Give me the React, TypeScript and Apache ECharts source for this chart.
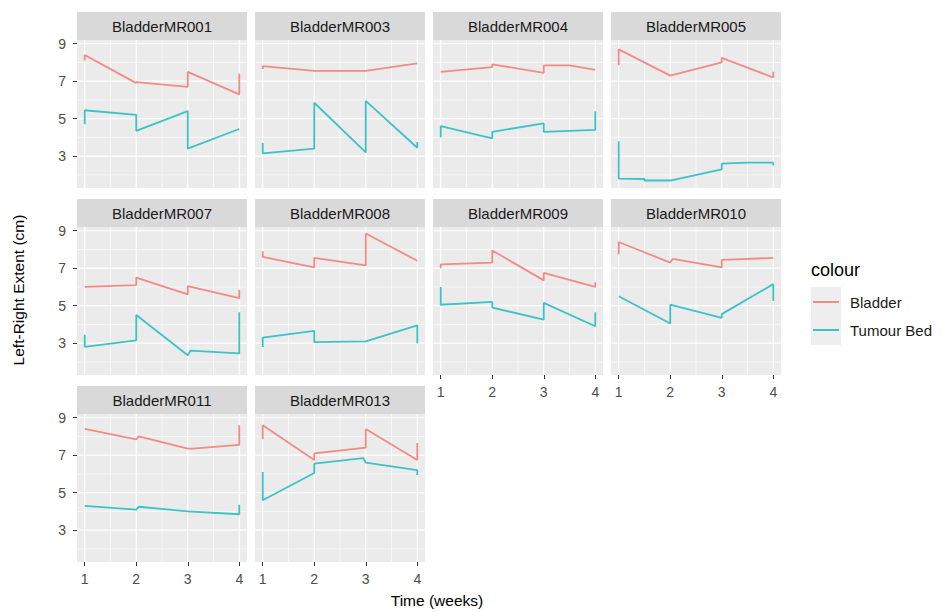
import React, { useEffect, useRef } from "react";
import * as echarts from "echarts";

// ---- data ----
const panelNames = [
  "BladderMR001", "BladderMR003", "BladderMR004", "BladderMR005",
  "BladderMR007", "BladderMR008", "BladderMR009", "BladderMR010",
  "BladderMR011", "BladderMR013",
];

const bladder: number[][][] = [
  [[1, 8.1], [1, 8.4], [2, 6.9], [2, 6.95], [3, 6.7], [3, 7.5], [4, 6.3], [4, 7.4]],
  [[1, 7.65], [1, 7.8], [2, 7.55], [3, 7.55], [4, 7.95]],
  [[1, 7.5], [2, 7.75], [2, 7.9], [3, 7.45], [3, 7.85], [3.5, 7.85], [4, 7.6]],
  [[1, 7.85], [1, 8.7], [2, 7.3], [3, 8.0], [3, 8.25], [4, 7.2], [4, 7.5]],
  [[1, 6.0], [2, 6.1], [2, 6.5], [3, 5.6], [3, 6.05], [4, 5.4], [4, 5.85]],
  [[1, 7.9], [1, 7.6], [2, 7.05], [2, 7.55], [3, 7.15], [3, 8.85], [4, 7.4]],
  [[1, 7.0], [1, 7.2], [2, 7.3], [2, 7.95], [3, 6.35], [3, 6.75], [4, 6.0], [4, 6.25]],
  [[1, 7.75], [1, 8.4], [2, 7.3], [2.05, 7.5], [3, 7.05], [3, 7.45], [4, 7.55]],
  [[1, 8.4], [2, 7.85], [2.05, 8.0], [3, 7.35], [3.1, 7.35], [4, 7.55], [4, 8.6]],
  [[1, 7.85], [1, 8.6], [2, 6.75], [2, 7.1], [3, 7.4], [3, 8.4], [4, 6.75], [4, 7.65]],
];

const tumourBed: number[][][] = [
  [[1, 4.7], [1, 5.45], [2, 5.2], [2, 4.35], [3, 5.4], [3, 3.4], [4, 4.45]],
  [[1, 3.7], [1, 3.15], [2, 3.4], [2, 5.85], [3, 3.2], [3, 5.95], [4, 3.45], [4, 3.75]],
  [[1, 4.0], [1, 4.6], [2, 3.95], [2, 4.3], [3, 4.75], [3, 4.3], [4, 4.4], [4, 5.4]],
  [[1, 3.8], [1, 1.8], [1.5, 1.78], [1.5, 1.7], [2, 1.7], [3, 2.3], [3, 2.6], [3.5, 2.65], [4, 2.65], [4, 2.5]],
  [[1, 3.45], [1, 2.8], [2, 3.15], [2, 4.5], [3, 2.35], [3.05, 2.6], [4, 2.45], [4, 4.65]],
  [[1, 2.8], [1, 3.3], [2, 3.65], [2, 3.05], [3, 3.1], [4, 3.95], [4, 3.0]],
  [[1, 6.0], [1, 5.05], [2, 5.2], [2, 4.9], [3, 4.25], [3, 5.15], [4, 3.9], [4, 4.65]],
  [[1, 5.5], [2, 4.05], [2, 5.05], [3, 4.35], [3, 4.55], [4, 6.15], [4, 5.25]],
  [[1, 4.3], [2, 4.1], [2.05, 4.25], [3, 4.0], [4, 3.85], [4, 4.35]],
  [[1, 6.1], [1, 4.6], [2, 6.05], [2, 6.55], [2.95, 6.85], [3, 6.6], [4, 6.2], [4, 5.95]],
];

const yTicks = [3, 5, 7, 9];
const yMinor = [2, 4, 6, 8];
const xTicks = [1, 2, 3, 4];
const xMinor = [1.5, 2.5, 3.5];
const X_MIN = 0.85;
const X_MAX = 4.15;
const Y_MIN = 1.3;
const Y_MAX = 9.2;

// ---- layout / style ----
const FONT = "'Liberation Sans', Arial, sans-serif";
const COL_LEFT = [77, 255, 433, 611];
const ROW_TOP = [40, 227, 414];
const PANEL_W = 170;
const PANEL_H = 148;
const STRIP_H = 28;
const BLADDER_COLOR = "#F08C85";
const TUMOUR_COLOR = "#3CC3C5";

export default function App() {
  const ref = useRef<HTMLDivElement>(null);

  useEffect(() => {
    if (!ref.current) return;
    const chart = echarts.init(ref.current, undefined, { renderer: "svg" });

    const n = panelNames.length;
    const grids: any[] = [];
    const xAxes: any[] = [];
    const yAxes: any[] = [];
    const series: any[] = [];
    const graphics: any[] = [];

    const gridLine = (i: number, data: number[][], width: number) => ({
      type: "line", xAxisIndex: i, yAxisIndex: i, data,
      symbol: "none", showSymbol: false, silent: true, z: 1,
      lineStyle: { color: "#FFFFFF", width },
      emphasis: { disabled: true },
      tooltip: { show: false },
    });

    for (let i = 0; i < n; i++) {
      const col = i % 4;
      const row = Math.floor(i / 4);
      const left = COL_LEFT[col];
      const top = ROW_TOP[row];
      const showX = i + 4 >= n;
      const showY = col === 0;

      grids.push({
        left, top, width: PANEL_W, height: PANEL_H,
        show: true, backgroundColor: "#EBEBEB", borderWidth: 0,
      });
      xAxes.push({
        type: "value", gridIndex: i, min: X_MIN, max: X_MAX,
        axisLine: { show: false },
        splitLine: { show: false },
        axisTick: { show: showX, customValues: xTicks, length: 4, lineStyle: { color: "#333333", width: 1 } },
        axisLabel: { show: showX, customValues: xTicks, margin: 10, color: "#4D4D4D", fontSize: 14, fontFamily: FONT },
      });
      yAxes.push({
        type: "value", gridIndex: i, min: Y_MIN, max: Y_MAX,
        axisLine: { show: false },
        splitLine: { show: false },
        axisTick: { show: showY, customValues: yTicks, length: 4, lineStyle: { color: "#333333", width: 1 } },
        axisLabel: { show: showY, customValues: yTicks, margin: 11, color: "#4D4D4D", fontSize: 14, fontFamily: FONT },
      });

      // panel grid lines (white), through the axes' scales
      yMinor.forEach((v) => series.push(gridLine(i, [[X_MIN, v], [X_MAX, v]], 0.6)));
      xMinor.forEach((v) => series.push(gridLine(i, [[v, Y_MIN], [v, Y_MAX]], 0.6)));
      yTicks.forEach((v) => series.push(gridLine(i, [[X_MIN, v], [X_MAX, v]], 1.2)));
      xTicks.forEach((v) => series.push(gridLine(i, [[v, Y_MIN], [v, Y_MAX]], 1.2)));

      series.push({
        name: "Bladder", type: "line", xAxisIndex: i, yAxisIndex: i,
        data: bladder[i], symbol: "none", showSymbol: false, z: 3,
        lineStyle: { color: BLADDER_COLOR, width: 1.8 }, itemStyle: { color: BLADDER_COLOR },
      });
      series.push({
        name: "Tumour Bed", type: "line", xAxisIndex: i, yAxisIndex: i,
        data: tumourBed[i], symbol: "none", showSymbol: false, z: 3,
        lineStyle: { color: TUMOUR_COLOR, width: 1.8 }, itemStyle: { color: TUMOUR_COLOR },
      });

      graphics.push({
        type: "rect", z: 1,
        shape: { x: left, y: top - STRIP_H, width: PANEL_W, height: STRIP_H },
        style: { fill: "#D9D9D9" },
      });
      graphics.push({
        type: "text", z: 2,
        x: left + PANEL_W / 2, y: top - STRIP_H / 2,
        style: {
          text: panelNames[i], fill: "#1A1A1A", fontSize: 15, fontFamily: FONT,
          textAlign: "center", textVerticalAlign: "middle",
        },
      });
    }

    // axis titles
    graphics.push({
      type: "text", z: 2, x: 18, y: 290, rotation: Math.PI / 2,
      style: {
        text: "Left-Right Extent (cm)", fill: "#000000", fontSize: 15.5, fontFamily: FONT,
        textAlign: "center", textVerticalAlign: "middle",
      },
    });
    graphics.push({
      type: "text", z: 2, x: 437, y: 600,
      style: {
        text: "Time (weeks)", fill: "#000000", fontSize: 15.5, fontFamily: FONT,
        textAlign: "center", textVerticalAlign: "middle",
      },
    });
    // legend title + key background
    graphics.push({
      type: "text", z: 2, x: 811, y: 270,
      style: {
        text: "colour", fill: "#000000", fontSize: 18, fontFamily: FONT,
        textAlign: "left", textVerticalAlign: "middle",
      },
    });
    graphics.push({
      type: "rect", z: 0,
      shape: { x: 811, y: 287, width: 30, height: 58 },
      style: { fill: "#EEEEEE" },
    });

    chart.setOption({
      animation: false,
      backgroundColor: "#FFFFFF",
      grid: grids,
      xAxis: xAxes,
      yAxis: yAxes,
      series,
      graphic: graphics,
      legend: {
        data: ["Bladder", "Tumour Bed"],
        orient: "vertical",
        left: 813, top: 288,
        padding: 0, itemGap: 0,
        itemWidth: 26, itemHeight: 2,
        icon: "rect",
        selectedMode: false,
        textStyle: {
          fontSize: 15, fontFamily: FONT, color: "#1A1A1A",
          lineHeight: 28, padding: [0, 0, 0, 6],
        },
      },
    });

    return () => chart.dispose();
  }, []);

  return (
    <div
      ref={ref}
      style={{ position: "fixed", left: 0, top: 0, width: 942, height: 612 }}
    />
  );
}
